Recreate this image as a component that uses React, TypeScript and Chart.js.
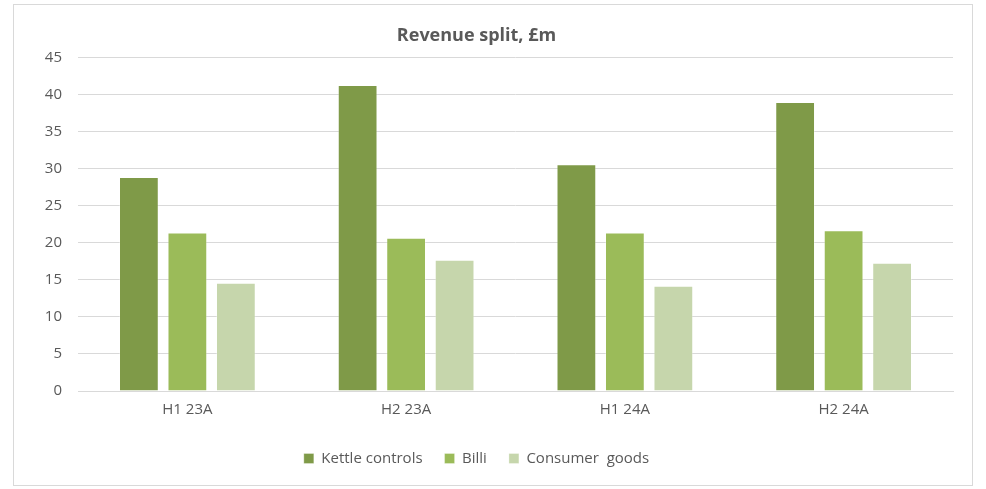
import React, { useEffect, useRef } from "react";
import { Chart, registerables } from "chart.js";

Chart.register(...registerables);

const categories = ["H1 23A", "H2 23A", "H1 24A", "H2 24A"];
const kettleControls = [28.9, 41.3, 30.6, 39.0];
const billi = [21.4, 20.7, 21.4, 21.7];
const consumerGoods = [14.6, 17.7, 14.2, 17.3];
const seriesNames = ["Kettle controls", "Billi", "Consumer  goods"];
const seriesColors = ["#7f9a48", "#9bbb59", "#c6d6ac"];

export default function App() {
  const ref = useRef<HTMLCanvasElement>(null);
  useEffect(() => {
    if (!ref.current) return;
    const font = "'Open Sans', 'DejaVu Sans', sans-serif";
    const values = [kettleControls, billi, consumerGoods];
    const chart = new Chart(ref.current, {
      type: "bar",
      data: {
        labels: categories,
        datasets: seriesNames.map((name, i) => ({
          label: name,
          data: values[i],
          backgroundColor: seriesColors[i],
          borderColor: "rgba(255,255,255,0.3)",
          borderWidth: 1,
          barPercentage: 0.82,
          categoryPercentage: 0.665,
        })),
      },
      options: {
        responsive: false,
        animation: false,
        layout: { padding: { left: 0, right: 33, top: 0, bottom: 13 } },
        plugins: {
          title: {
            display: true,
            text: "Revenue split, £m",
            color: "#595959",
            font: { family: font, size: 18, weight: "bold" },
            padding: { top: 25, bottom: 11 },
          },
          legend: {
            position: "bottom",
            labels: {
              color: "#595959",
              font: { family: font, size: 15 },
              boxWidth: 10,
              boxHeight: 10,
              padding: 22,
            },
          },
          tooltip: { enabled: false },
        },
        scales: {
          x: {
            grid: { display: false, drawTicks: false },
            border: { display: true, color: "#d9d9d9", width: 1 },
            ticks: { color: "#595959", font: { family: font, size: 15 }, padding: 10 },
          },
          y: {
            min: 0,
            max: 45,
            grid: { color: "#d9d9d9", lineWidth: 1, drawTicks: false },
            border: { display: false },
            ticks: { stepSize: 5, color: "#595959", font: { family: font, size: 15 }, padding: 16 },
            afterFit: (scale: any) => {
              scale.width = 78;
            },
          },
        },
      },
    });
    return () => chart.destroy();
  }, []);
  return (
    <div style={{ position: "absolute", left: 0, top: 0, width: 986, height: 489, background: "#fff" }}>
      <div
        style={{
          position: "absolute",
          left: 13,
          top: 4,
          width: 960,
          height: 482,
          border: "1px solid #d9d9d9",
          boxSizing: "border-box",
        }}
      />
      <canvas ref={ref} width={986} height={489} style={{ position: "absolute", left: 0, top: 0 }} />
    </div>
  );
}
